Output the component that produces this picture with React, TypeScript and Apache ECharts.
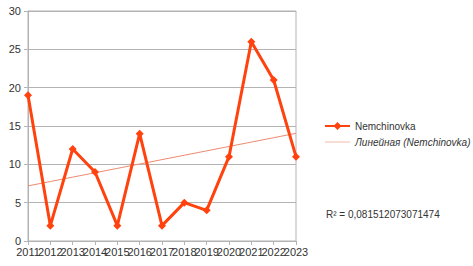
import React, { useEffect, useRef } from "react";
import * as echarts from "echarts";

const years = ["2011","2012","2013","2014","2015","2016","2017","2018","2019","2020","2021","2022","2023"];
const values = [19, 2, 12, 9, 2, 14, 2, 5, 4, 11, 26, 21, 11];
const yTicks = [0, 5, 10, 15, 20, 25, 30];
const seriesName = "Nemchinovka";
const trendName = "Линейная (Nemchinovka)";
const r2Label = "R² = 0,081512073071474";

function linearFit(ys: number[]): number[] {
  const n = ys.length;
  const mx = (n - 1) / 2;
  const my = ys.reduce((a, b) => a + b, 0) / n;
  let sxy = 0, sxx = 0;
  ys.forEach((y, i) => { sxy += (i - mx) * (y - my); sxx += (i - mx) * (i - mx); });
  const b = sxy / sxx;
  const a = my - b * mx;
  return ys.map((_, i) => a + b * i);
}

export default function App() {
  const ref = useRef<HTMLDivElement>(null);
  useEffect(() => {
    if (!ref.current) return;
    const chart = echarts.init(ref.current, null, { renderer: "svg" });
    const trend = linearFit(values);
    const font = "'Liberation Sans', Arial, sans-serif";
    chart.setOption({
      animation: false,
      textStyle: { fontFamily: font },
      grid: { left: 28, right: 177, top: 11, bottom: 25, show: true, borderColor: "#b3b3b3", borderWidth: 1 },
      xAxis: {
        type: "category",
        data: years,
        boundaryGap: false,
        axisLine: { lineStyle: { color: "#b3b3b3" } },
        axisTick: { show: true, length: 4, lineStyle: { color: "#b3b3b3" } },
        axisLabel: { color: "#333", fontSize: 11, fontFamily: font, margin: 5, interval: 0 },
        splitLine: { show: false },
      },
      yAxis: {
        type: "value",
        min: yTicks[0],
        max: yTicks[yTicks.length - 1],
        interval: 5,
        axisLine: { show: true, lineStyle: { color: "#b3b3b3" } },
        axisTick: { show: true, length: 4, lineStyle: { color: "#b3b3b3" } },
        axisLabel: { color: "#333", fontSize: 11, fontFamily: font, margin: 7 },
        splitLine: { lineStyle: { color: "#b3b3b3" } },
      },
      legend: {
        orient: "vertical",
        left: 319,
        top: 116,
        itemGap: 6,
        itemWidth: 25,
        itemHeight: 10,
        textStyle: { color: "#333", fontSize: 10, fontFamily: font },
        data: [
          { name: seriesName },
          { name: trendName, icon: "path://M0,0 L26,0 L26,1 L0,1 Z", textStyle: { fontStyle: "italic" } },
        ],
      },
      graphic: [
        { type: "text", left: 326, top: 209, style: { text: r2Label, fill: "#333", fontSize: 10, fontFamily: font } },
      ],
      series: [
        {
          name: seriesName,
          type: "line",
          data: values,
          symbol: "diamond",
          symbolSize: 8,
          lineStyle: { color: "#ff420e", width: 3 },
          itemStyle: { color: "#ff420e" },
          z: 3,
        },
        {
          name: trendName,
          type: "line",
          data: trend,
          symbol: "none",
          lineStyle: { color: "#ee8a70", width: 1 },
          itemStyle: { color: "#f2b8a8" },
          z: 1,
        },
      ],
    });
    return () => chart.dispose();
  }, []);
  return <div ref={ref} style={{ width: 473, height: 266, position: "absolute", left: 0, top: 0, background: "#fff" }} />;
}
